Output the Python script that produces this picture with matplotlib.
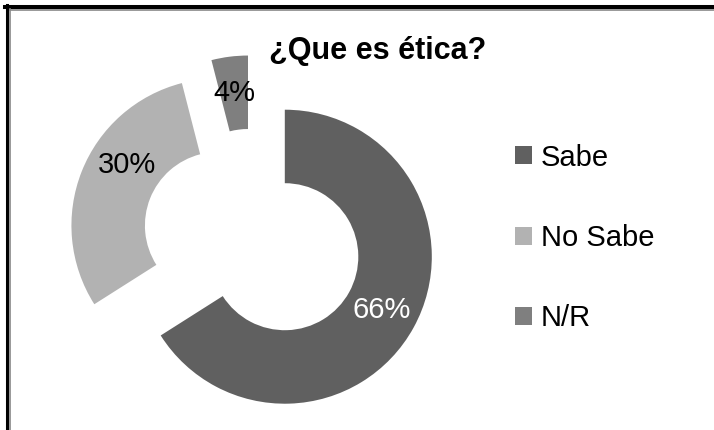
import matplotlib
matplotlib.use("Agg")
import matplotlib.pyplot as plt
from matplotlib.lines import Line2D

plt.rcParams["font.family"] = ["Liberation Sans", "DejaVu Sans"]

TITLE = "¿Que es ética?"
categories = ["Sabe", "No Sabe", "N/R"]
values = [66, 30, 4]
colors = ["#606060", "#b2b2b2", "#7f7f7f"]
label_colors = ["white", "black", "black"]

W, H = 714, 430
CX, CY, R = 252.6, 239, 147  # donut centre and radius in pixels

fig = plt.figure(figsize=(W / 100, H / 100), dpi=100)
ax = fig.add_axes([0, 0, 1, 1])

wedges, texts, autotexts = ax.pie(
    values,
    colors=colors,
    startangle=90,
    counterclock=False,
    radius=1,
    explode=[0.25] * len(values),
    autopct="%1.0f%%",
    pctdistance=0.75,
    wedgeprops=dict(width=0.5, linewidth=0),
    textprops=dict(fontsize=21),
)
for t, c in zip(autotexts, label_colors):
    t.set_color(c)

# the "30%" label sits a bit higher in the original
x, y = autotexts[1].get_position()
autotexts[1].set_position((x + 11 / R, y + 20 / R))

ax.set_xlim((0 - CX) / R, (W - CX) / R)
ax.set_ylim((CY - H) / R, CY / R)
ax.set_aspect("auto")
ax.axis("off")

# title
fig.text(378 / W, 1 - 59 / H, TITLE, ha="center", va="baseline",
         fontsize=22, fontweight="bold")

# legend
fig.legend(
    wedges, categories,
    loc="center left",
    bbox_to_anchor=(515 / W, 1 - 238 / H),
    bbox_transform=fig.transFigure,
    frameon=False,
    fontsize=21,
    handlelength=0.58,
    handleheight=0.58,
    handletextpad=0.3,
    labelspacing=1.8,
    borderpad=0,
    borderaxespad=0,
)

# frame lines on top and left
fig.add_artist(Line2D([5 / W, 1], [1 - 7 / H, 1 - 7 / H], transform=fig.transFigure,
                      color="black", linewidth=2.9))
fig.add_artist(Line2D([9 / W, 1], [1 - 10 / H, 1 - 10 / H], transform=fig.transFigure,
                      color="#888888", linewidth=1.2))
fig.add_artist(Line2D([6.5 / W, 6.5 / W], [0, 1 - 5 / H], transform=fig.transFigure,
                      color="black", linewidth=2.2))
fig.add_artist(Line2D([9.5 / W, 9.5 / W], [0, 1 - 9 / H], transform=fig.transFigure,
                      color="#888888", linewidth=1.2))

fig.savefig("out.png", dpi=100)
